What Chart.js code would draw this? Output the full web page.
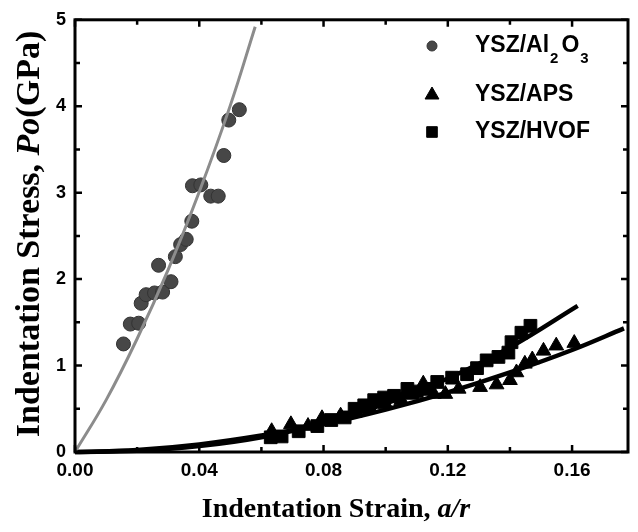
<!DOCTYPE html>
<html>
<head>
<meta charset="utf-8">
<script src="https://cdn.jsdelivr.net/npm/chart.js@4.4.1/dist/chart.umd.min.js"></script>
<style>
  html, body { margin: 0; padding: 0; background: #fff; }
  #wrap { width: 638px; height: 532px; }
</style>
</head>
<body>
<div id="wrap"><canvas id="stressStrainChart" width="638" height="532"></canvas></div>
<script>
// measured points
const al2o3X = [0.0156, 0.0178, 0.0205, 0.0213, 0.0229, 0.0256, 0.0269, 0.0282, 0.0309, 0.0323, 0.0340, 0.0358, 0.0376, 0.0378, 0.0405, 0.0437, 0.0461, 0.0479, 0.0495, 0.0529];
const al2o3Y = [1.25, 1.48, 1.49, 1.72, 1.82, 1.84, 2.16, 1.85, 1.97, 2.26, 2.40, 2.46, 2.67, 3.08, 3.09, 2.96, 2.96, 3.43, 3.84, 3.96];

const apsX = [0.0633, 0.0695, 0.0750, 0.0795, 0.0855, 0.0900, 0.0950, 0.1000, 0.1050, 0.1085, 0.1121, 0.1155, 0.1192, 0.1235, 0.1304, 0.1357, 0.1400, 0.1421, 0.1448, 0.1472, 0.1508, 0.1549, 0.1607];
const apsY = [0.24, 0.32, 0.30, 0.39, 0.42, 0.45, 0.50, 0.55, 0.60, 0.66, 0.79, 0.67, 0.67, 0.73, 0.75, 0.78, 0.83, 0.92, 1.02, 1.07, 1.17, 1.23, 1.26];

const hvofX = [0.0630, 0.0665, 0.0720, 0.0780, 0.0825, 0.0868, 0.0900, 0.0931, 0.0963, 0.0995, 0.1027, 0.1070, 0.1100, 0.1139, 0.1166, 0.1214, 0.1262, 0.1294, 0.1325, 0.1363, 0.1395, 0.1405, 0.1437, 0.1466];
const hvofY = [0.17, 0.18, 0.24, 0.30, 0.37, 0.40, 0.50, 0.54, 0.60, 0.63, 0.65, 0.73, 0.70, 0.73, 0.81, 0.86, 0.90, 0.97, 1.06, 1.10, 1.15, 1.27, 1.38, 1.46];

// fitted curves
const al2o3FitX = [0, 0.01, 0.02, 0.03, 0.04, 0.05, 0.058];
const al2o3FitY = [0, 0.60, 1.31, 2.11, 3.01, 4.01, 4.92];
const apsFitX = [0, 0.02, 0.04, 0.06, 0.08, 0.10, 0.12, 0.14, 0.16, 0.1767];
const apsFitY = [0, 0.023, 0.087, 0.19, 0.32, 0.49, 0.69, 0.92, 1.18, 1.43];
const hvofFitX = [0, 0.02, 0.04, 0.06, 0.08, 0.10, 0.12, 0.14, 0.1618];
const hvofFitY = [0, 0.014, 0.068, 0.17, 0.335, 0.56, 0.85, 1.21, 1.69];

const xTicks = ['0.00', '0.04', '0.08', '0.12', '0.16'];
const yTicks = ['0', '1', '2', '3', '4', '5'];

function pts(xs, ys) { return xs.map((x, i) => ({ x: x, y: ys[i] })); }

const SANS = "'Liberation Sans', Arial, sans-serif";
const SERIF = "'Liberation Serif', 'Times New Roman', serif";

// frame with inward ticks on all four sides
const framePlugin = {
  id: 'frame',
  afterDatasetsDraw(chart) {
    const ctx = chart.ctx, a = chart.chartArea;
    const xs = chart.scales.x, ys = chart.scales.y;
    ctx.save();
    ctx.strokeStyle = '#000';
    ctx.lineWidth = 2.5;
    for (let i = 0; i <= 8; i++) {
      const px = xs.getPixelForValue(i * 0.02);
      const len = i % 2 === 0 ? 7 : 5;
      ctx.beginPath();
      ctx.moveTo(px, a.bottom); ctx.lineTo(px, a.bottom - len);
      ctx.moveTo(px, a.top); ctx.lineTo(px, a.top + len);
      ctx.stroke();
    }
    for (let i = 0; i <= 10; i++) {
      const py = ys.getPixelForValue(i * 0.5);
      const len = i % 2 === 0 ? 7 : 5;
      ctx.beginPath();
      ctx.moveTo(a.left, py); ctx.lineTo(a.left + len, py);
      ctx.moveTo(a.right, py); ctx.lineTo(a.right - len, py);
      ctx.stroke();
    }
    ctx.lineWidth = 3;
    ctx.strokeRect(a.left, a.top, a.right - a.left, a.bottom - a.top);
    ctx.restore();
  }
};

// legend and axis titles (need subscripts / italics)
const textPlugin = {
  id: 'texts',
  afterDraw(chart) {
    const ctx = chart.ctx, a = chart.chartArea;
    ctx.save();
    ctx.fillStyle = '#000';
    ctx.textBaseline = 'middle';
    ctx.textAlign = 'left';

    const ds = chart.data.datasets;
    const rows = [
      { y: 46, d: ds[0], r: 5, parts: [['YSZ/Al', 0], ['2', 1], ['O', 0], ['3', 1]] },
      { y: 95, d: ds[1], r: 8, parts: [['YSZ/APS', 0]] },
      { y: 132, d: ds[2], r: 7.5, parts: [['YSZ/HVOF', 0]] }
    ];
    rows.forEach(r => {
      ctx.fillStyle = r.d.backgroundColor;
      ctx.strokeStyle = r.d.borderColor;
      Chart.helpers.drawPoint(ctx, { pointStyle: r.d.pointStyle, radius: r.r, borderWidth: 1, rotation: 0 }, 432, r.y);
      ctx.fillStyle = '#000';
      let x = 475;
      r.parts.forEach(p => {
        ctx.font = p[1] ? 'bold 15px ' + SANS : 'bold 23px ' + SANS;
        ctx.fillText(p[0], x, r.y + (p[1] ? 13 : 0));
        x += ctx.measureText(p[0]).width + (p[1] ? 3 : 1);
      });
    });

    // x title
    const bold = 'bold 28px ' + SERIF, ital = 'italic bold 28px ' + SERIF;
    const xParts = [['Indentation Strain, ', bold], ['a/r', ital]];
    let w = 0;
    xParts.forEach(p => { ctx.font = p[1]; w += ctx.measureText(p[0]).width; });
    let x = 336 - w / 2;
    xParts.forEach(p => { ctx.font = p[1]; ctx.fillText(p[0], x, 510); x += ctx.measureText(p[0]).width; });

    // y title
    const yb = 'bold 34px ' + SERIF, yi = 'italic bold 34px ' + SERIF;
    const yParts = [['Indentation Stress, ', yb], ['Po', yi], ['(GPa)', yb]];
    w = 0;
    yParts.forEach(p => { ctx.font = p[1]; w += ctx.measureText(p[0]).width; });
    ctx.translate(30, 234);
    ctx.rotate(-Math.PI / 2);
    x = -w / 2;
    yParts.forEach(p => { ctx.font = p[1]; ctx.fillText(p[0], x, 0); x += ctx.measureText(p[0]).width; });
    ctx.restore();
  }
};

const ctx = document.getElementById('stressStrainChart').getContext('2d');
new Chart(ctx, {
  type: 'scatter',
  data: {
    datasets: [
      { label: 'YSZ/Al2O3', data: pts(al2o3X, al2o3Y), pointStyle: 'circle', pointRadius: 7,
        backgroundColor: '#474747', borderColor: '#333', borderWidth: 1, order: 3 },
      { label: 'YSZ/APS', data: pts(apsX, apsY), pointStyle: 'triangle', pointRadius: 8.5,
        backgroundColor: '#000', borderColor: '#000', borderWidth: 1, order: 3 },
      { label: 'YSZ/HVOF', data: pts(hvofX, hvofY), pointStyle: 'rect', pointRadius: 9,
        backgroundColor: '#000', borderColor: '#000', borderWidth: 1, order: 3 },
      { label: 'fit Al2O3', data: pts(al2o3FitX, al2o3FitY), showLine: true, pointRadius: 0,
        borderColor: '#8c8c8c', borderWidth: 3, tension: 0.4, order: 1 },
      { label: 'fit APS', data: pts(apsFitX, apsFitY), showLine: true, pointRadius: 0,
        borderColor: '#000', borderWidth: 4.5, tension: 0.4, order: 1 },
      { label: 'fit HVOF', data: pts(hvofFitX, hvofFitY), showLine: true, pointRadius: 0,
        borderColor: '#000', borderWidth: 4.5, tension: 0.4, order: 1 }
    ]
  },
  options: {
    responsive: false,
    animation: false,
    clip: 6,
    layout: { padding: { left: 0, right: 5, top: 16, bottom: 0 } },
    plugins: {
      legend: { display: false },
      tooltip: { enabled: false }
    },
    scales: {
      x: {
        type: 'linear', min: 0, max: 0.178,
        afterFit(s) { s.height = 80; },
        grid: { display: false, drawTicks: false },
        border: { display: false },
        afterBuildTicks(s) { s.ticks = xTicks.map(t => ({ value: parseFloat(t) })); },
        ticks: {
          autoSkip: false, maxRotation: 0, padding: 7, color: '#000',
          font: { family: SANS, size: 19, weight: 'bold' },
          callback: (v) => v.toFixed(2)
        }
      },
      y: {
        type: 'linear', min: 0, max: 5,
        afterFit(s) { s.width = 75; },
        grid: { display: false, drawTicks: false },
        border: { display: false },
        afterBuildTicks(s) { s.ticks = yTicks.map(t => ({ value: parseFloat(t) })); },
        ticks: {
          padding: 9, color: '#000',
          font: { family: SANS, size: 18, weight: 'bold' },
          callback: (v) => String(v)
        }
      }
    }
  },
  plugins: [framePlugin, textPlugin]
});
</script>
</body>
</html>
